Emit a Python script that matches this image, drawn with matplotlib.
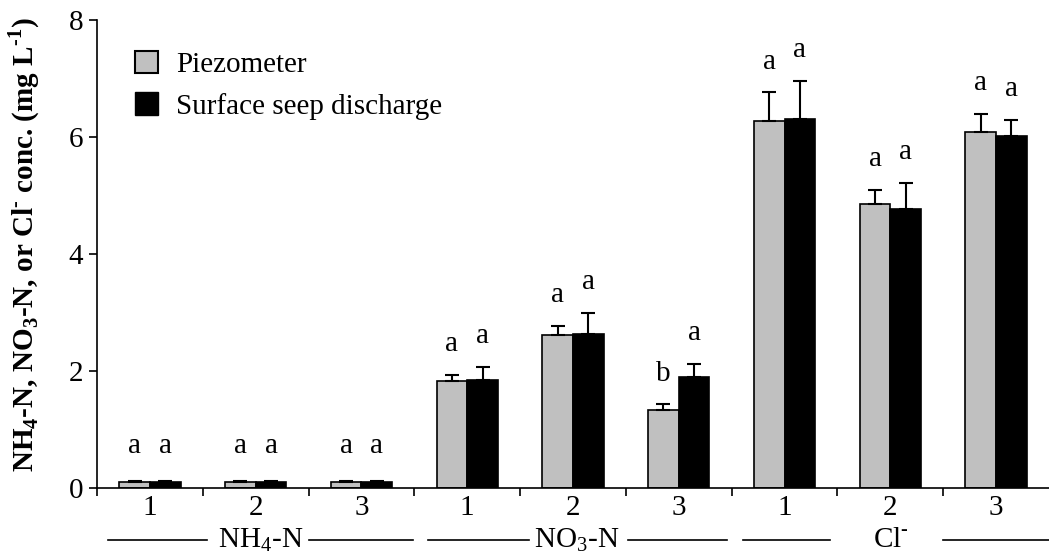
import matplotlib.pyplot as plt
from matplotlib.patches import Patch
import numpy as np

plt.rcParams['font.family'] = ['Liberation Serif', 'DejaVu Serif']
plt.rcParams['mathtext.fontset'] = 'custom'
plt.rcParams['mathtext.rm'] = 'Liberation Serif'
plt.rcParams['mathtext.bf'] = 'Liberation Serif:bold'

# sites 1-3 for each constituent
site_labels = ['1', '2', '3', '1', '2', '3', '1', '2', '3']
constituents = [r'NH$_4$-N', r'NO$_3$-N', r'Cl$^{\text{-}}$']

piezo_mean = [0.10, 0.10, 0.10, 1.83, 2.62, 1.34, 6.27, 4.85, 6.09]
piezo_se = [0.02, 0.02, 0.02, 0.11, 0.15, 0.09, 0.50, 0.25, 0.31]
seep_mean = [0.10, 0.10, 0.10, 1.84, 2.64, 1.89, 6.31, 4.77, 6.02]
seep_se = [0.02, 0.02, 0.02, 0.23, 0.36, 0.23, 0.65, 0.45, 0.28]
piezo_letters = ['a', 'a', 'a', 'a', 'a', 'b', 'a', 'a', 'a']
seep_letters = ['a', 'a', 'a', 'a', 'a', 'a', 'a', 'a', 'a']

gray = '#c0c0c0'
fs = 21

fig = plt.figure(figsize=(10.49, 5.59), dpi=100)
ax = fig.add_axes([0.0925, 0.127, 0.9075, 0.837])

x = np.arange(len(site_labels)) + 0.5
w = 0.29
ax.bar(x - w / 2, piezo_mean, w, color=gray, edgecolor='black', linewidth=1.2)
ax.bar(x + w / 2, seep_mean, w, color='black', edgecolor='black', linewidth=1.2)
ax.errorbar(x - w / 2, piezo_mean, yerr=[np.zeros(9), piezo_se], fmt='none',
            ecolor='black', elinewidth=1.5, capsize=5, capthick=1.5)
ax.errorbar(x + w / 2, seep_mean, yerr=[np.zeros(9), seep_se], fmt='none',
            ecolor='black', elinewidth=1.5, capsize=5, capthick=1.5)

# significance letters above each bar
for xi, m, s, lab in zip(x - w / 2, piezo_mean, piezo_se, piezo_letters):
    ax.text(xi, max(m + s + 0.3, 0.5), lab, ha='center', va='bottom', fontsize=fs)
for xi, m, s, lab in zip(x + w / 2, seep_mean, seep_se, seep_letters):
    ax.text(xi, max(m + s + 0.3, 0.5), lab, ha='center', va='bottom', fontsize=fs)

ax.set_xlim(0, 9)
ax.set_ylim(0, 8)
ax.set_yticks([0, 2, 4, 6, 8])
ax.set_xticks(np.arange(0, 9))
ax.set_xticklabels([])
ax.set_xticks(x, minor=True)
ax.set_xticklabels(site_labels, minor=True)
ax.tick_params(axis='x', which='minor', length=0, pad=5, labelsize=fs)
ax.tick_params(axis='x', which='major', direction='out', length=6, width=1.2)
ax.tick_params(axis='y', direction='out', length=6, width=1.2, labelsize=fs, pad=4)
ax.spines['top'].set_visible(False)
ax.spines['right'].set_visible(False)
ax.spines['left'].set_linewidth(1.2)
ax.spines['bottom'].set_linewidth(1.2)

ax.set_ylabel(r'NH$_\mathbf{4}$-N, NO$_\mathbf{3}$-N, or Cl$^{\text{-}}$ conc. (mg L$^{\text{-}\mathbf{1}}$)',
              fontsize=21, fontweight='bold')
ax.yaxis.set_label_coords(-0.058, 0.52)

# constituent labels with rules on either side
trans = ax.get_xaxis_transform()
label_y = -0.112
rules = [(0.10, 1.04), (2.00, 2.99), (3.13, 4.08), (5.02, 5.96), (6.11, 6.93), (8.00, 9.00)]
for x0, x1 in rules:
    ax.plot([x0, x1], [label_y, label_y], color='black', lw=1.2,
            transform=trans, clip_on=False)
for cx, name in zip([1.55, 4.53, 7.51], constituents):
    ax.text(cx, label_y, name, ha='center', va='center', fontsize=fs, transform=trans)

handles = [Patch(facecolor=gray, edgecolor='black', linewidth=1.5, label='Piezometer'),
           Patch(facecolor='black', edgecolor='black', label='Surface seep discharge')]
ax.legend(handles=handles, loc='upper left', bbox_to_anchor=(0.04, 0.935), frameon=False,
          fontsize=fs, handlelength=0.8, handleheight=0.8, handletextpad=0.6,
          labelspacing=0.5, borderaxespad=0, borderpad=0)

fig.savefig('out.png', dpi=100)
